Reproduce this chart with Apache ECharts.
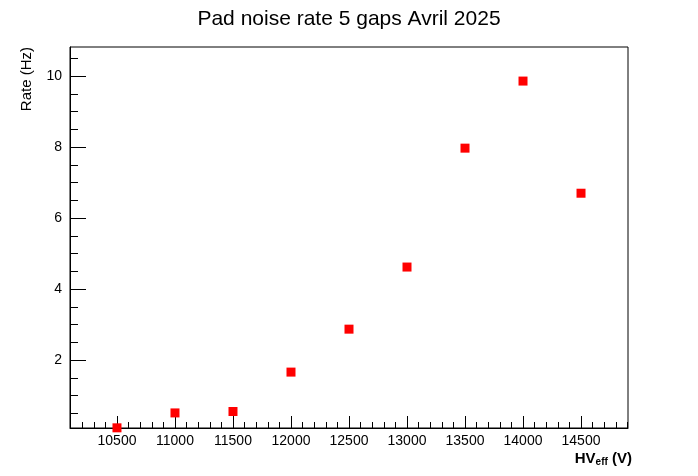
<!DOCTYPE html>
<html><head><meta charset="utf-8">
<script src="https://cdn.jsdelivr.net/npm/echarts@6/dist/echarts.min.js"></script>
<style>html,body{margin:0;background:#fff}#c{width:698px;height:476px}</style>
</head><body><div id="c"></div>
<script>
const hv = [10500, 11000, 11500, 12000, 12500, 13000, 13500, 14000, 14500];
const rate = [0.09, 0.51, 0.55, 1.66, 2.87, 4.62, 7.97, 9.86, 6.70];
const xMajor = [10500, 11000, 11500, 12000, 12500, 13000, 13500, 14000, 14500];
const yMajor = [2, 4, 6, 8, 10];
const xMinor = []; for (let v = 10100; v <= 14900; v += 100) xMinor.push(v);
const yMinor = []; for (let v = 0.5; v <= 10.5; v += 0.5) yMinor.push(v);
const XMIN = 10095, XMAX = 14905, YMIN = 0.085, YMAX = 10.82;
const font = 'Liberation Sans, Arial, sans-serif';
const chart = echarts.init(document.getElementById('c'));
chart.setOption({
  animation: false,
  title: [{text: 'Pad noise rate 5 gaps Avril 2025', left: 'center', top: 4,
    textStyle: {fontFamily: font, fontWeight: 'normal', fontSize: 21, color: '#000'}},
    {text: '{a|HV}{s|eff}{a| (V)}', right: 66, bottom: 10, padding: 0,
     textStyle: {rich: {a: {fontFamily: font, fontSize: 15, color: '#000'},
              s: {fontFamily: font, fontSize: 10, color: '#000', padding: [8, 0, 0, 0]}}}}],
  grid: {left: 70, right: 70, top: 47, bottom: 48, show: true, borderColor: '#000', borderWidth: 1},
  xAxis: [
    {type: 'value', min: XMIN, max: XMAX, splitLine: {show: false},
     axisLine: {lineStyle: {color: '#000'}},
     axisTick: {inside: true, length: 12, customValues: xMajor, lineStyle: {color: '#000'}},
     axisLabel: {customValues: xMajor, formatter: v => String(v), color: '#000', fontFamily: font, fontSize: 14, margin: 6}},
    {type: 'value', min: XMIN, max: XMAX, position: 'bottom', splitLine: {show: false},
     axisLine: {show: false}, axisLabel: {show: false},
     axisTick: {inside: true, length: 6, customValues: xMinor, lineStyle: {color: '#000'}}}
  ],
  yAxis: [
    {type: 'value', min: YMIN, max: YMAX, splitLine: {show: false},
     axisLine: {show: true, lineStyle: {color: '#000'}},
     axisTick: {show: true, inside: true, length: 16, customValues: yMajor, lineStyle: {color: '#000'}},
     axisLabel: {customValues: yMajor, formatter: v => String(v), color: '#000', fontFamily: font, fontSize: 14, margin: 8},
     name: 'Rate (Hz)', nameLocation: 'end', nameRotate: 90, nameGap: 0,
     nameTextStyle: {fontFamily: font, fontSize: 15, color: '#000', align: 'right', verticalAlign: 'bottom', padding: [0, 0, 36, 0]}},
    {type: 'value', min: YMIN, max: YMAX, position: 'left', splitLine: {show: false},
     axisLine: {show: false}, axisLabel: {show: false},
     axisTick: {show: true, inside: true, length: 8, customValues: yMinor, lineStyle: {color: '#000'}}}
  ],
  series: [{type: 'scatter', symbol: 'rect', symbolSize: 9,
    itemStyle: {color: '#ff0000', opacity: 1},
    data: hv.map((x, i) => [x, rate[i]])}]
});
</script></body></html>
